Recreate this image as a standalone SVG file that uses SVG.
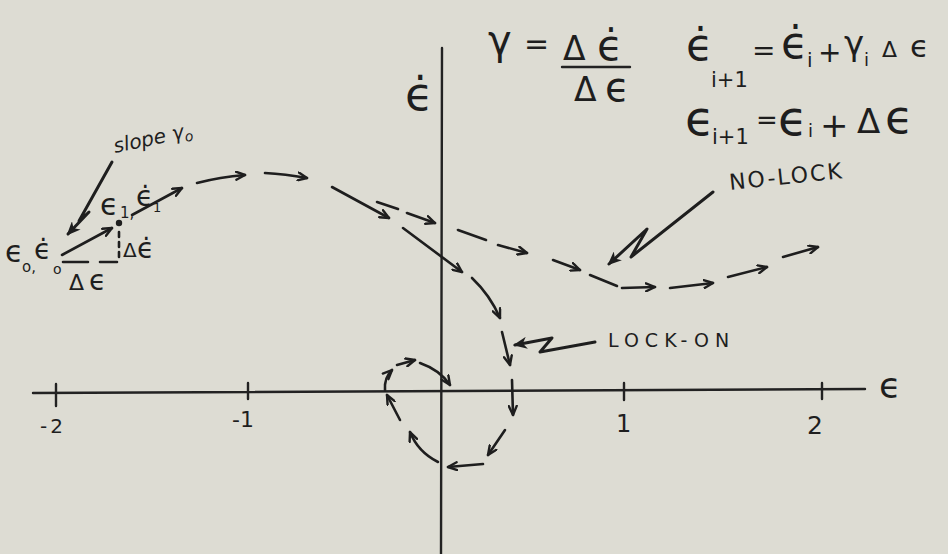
<svg xmlns="http://www.w3.org/2000/svg" width="948" height="554" viewBox="0 0 948 554">
<style>
.ink{stroke:#1e1e1e;stroke-width:2.6;fill:none;stroke-linecap:round;stroke-linejoin:round}
.ax{stroke:#222;stroke-width:2.4;fill:none;stroke-linecap:round}
.arr{marker-end:url(#head)}
.ptr{stroke:#1e1e1e;stroke-width:3;fill:none;stroke-linecap:round;stroke-linejoin:round;marker-end:url(#fhead)}
text{font-family:"DejaVu Sans","Noto Sans",sans-serif;fill:#1e1e1e}
.it{font-style:italic}
</style>
<defs>
<marker id="head" viewBox="0 0 12 10" refX="10" refY="5" markerWidth="12" markerHeight="10" markerUnits="userSpaceOnUse" orient="auto">
<path d="M1,1 L10,5 L1,9" fill="none" stroke="#1e1e1e" stroke-width="2.4" stroke-linejoin="round" stroke-linecap="round"/>
</marker>
<marker id="fhead" viewBox="0 0 14 12" refX="12" refY="6" markerWidth="14" markerHeight="12" markerUnits="userSpaceOnUse" orient="auto">
<path d="M0,0 L14,6 L0,12 L4,6 Z" fill="#1e1e1e"/>
</marker>
</defs>
<rect width="948" height="554" fill="#dddcd3"/>

<g id="axes">
<path class="ax" d="M33,393 L865,389"/>
<path class="ax" d="M442,48 L441,554"/>
<path class="ax" d="M56,384 L56,406 M248,383 L248,399 M624,383 L624,400 M822,383 L822,399"/>
</g>

<g id="axis-labels">
<text x="405" y="110" font-size="46">ϵ̇</text>
<text x="879" y="398" font-size="36">ϵ</text>
<text x="40" y="433" font-size="20" letter-spacing="3">-2</text>
<text x="232" y="427" font-size="22">-1</text>
<text x="616" y="432" font-size="24">1</text>
<text x="807" y="434" font-size="25">2</text>
</g>

<g id="equations">
<text x="488" y="54" font-size="40">γ</text>
<text x="524" y="54" font-size="30">=</text>
<text x="563" y="60" font-size="33">Δ</text>
<text x="597" y="60" font-size="42">ϵ̇</text>
<path class="ax" d="M562,67 L630,67"/>
<text x="574" y="101" font-size="33">Δ</text>
<text x="605" y="101" font-size="40">ϵ</text>

<text x="686" y="60" font-size="44">ϵ̇</text>
<text x="711" y="87" font-size="21">i+1</text>
<text x="752" y="60" font-size="28">=</text>
<text x="781" y="58" font-size="44">ϵ̇</text>
<text x="807" y="67" font-size="20">i</text>
<text x="818" y="62" font-size="28">+</text>
<text x="844" y="55" font-size="34">γ</text>
<text x="864" y="66" font-size="18">i</text>
<text x="882" y="57" font-size="22">Δ</text>
<text x="910" y="57" font-size="31">ϵ</text>

<text x="685" y="135" font-size="48">ϵ</text>
<text x="712" y="144" font-size="21">i+1</text>
<text x="756" y="129" font-size="26">=</text>
<text x="778" y="135" font-size="48">ϵ</text>
<text x="808" y="137" font-size="18">i</text>
<text x="820" y="137" font-size="34">+</text>
<text x="857" y="133" font-size="34">Δ</text>
<text x="885" y="133" font-size="46">ϵ</text>
</g>

<g id="start-construction">
<text x="5" y="262" font-size="30">ϵ</text>
<text x="22" y="272" font-size="15">o,</text>
<text x="34" y="259" font-size="28">ϵ̇</text>
<text x="53" y="274" font-size="14">o</text>
<circle cx="119" cy="223" r="3.2" fill="#1e1e1e"/>
<path class="ink" d="M119,232 L119,258" stroke-dasharray="5,5" stroke-width="2"/>
<path class="ink" d="M63,262 L88,262 M100,262 L117,262" stroke-width="2"/>
<text x="69" y="290" font-size="22">Δ</text>
<text x="89" y="290" font-size="28">ϵ</text>
<text x="123" y="257" font-size="20">Δ</text>
<text x="137" y="258" font-size="28">ϵ̇</text>
<text x="100" y="215" font-size="30">ϵ</text>
<text x="120" y="218" font-size="15">1,</text>
<text x="136" y="206" font-size="28">ϵ̇</text>
<text x="153" y="212" font-size="13">1</text>
<text class="it" x="115" y="153" font-size="20" transform="rotate(-12 115 153)">slope γ<tspan font-size="14" dy="4">o</tspan></text>
</g>

<g id="labels">
<text x="730" y="190" font-size="22" letter-spacing="2" transform="rotate(-6 730 190)">NO-LOCK</text>
<text x="608" y="347" font-size="19" letter-spacing="6">LOCK-ON</text>
</g>

<g id="connectors">
<path class="ink arr" d="M62,255 L112,228"/>
<path class="ink arr" d="M132,215 L182,188"/>
<path class="ink arr" d="M197,183 Q220,177 245,175"/>
<path class="ink arr" d="M265,173 Q285,174 307,178"/>
<path class="ink arr" d="M332,187 L389,218"/>
<path class="ink" d="M377,202 L398,209"/>
<path class="ink arr" d="M407,213 L435,223"/>
<path class="ink" d="M458,230 L486,240"/>
<path class="ink arr" d="M498,245 L527,253"/>
<path class="ink arr" d="M553,260 L580,270"/>
<path class="ink" d="M590,275 L617,286"/>
<path class="ink arr" d="M622,288 L655,287"/>
<path class="ink arr" d="M670,288 L713,283"/>
<path class="ink arr" d="M728,277 L767,267"/>
<path class="ink arr" d="M783,257 L818,247"/>

<path class="ink arr" d="M403,228 L462,272"/>
<path class="ink arr" d="M472,278 Q490,295 500,318"/>
<path class="ink arr" d="M502,332 L510,365"/>
<path class="ink arr" d="M512,380 L513,415"/>
<path class="ink arr" d="M505,430 L488,455"/>
<path class="ink arr" d="M483,464 L448,467"/>
<path class="ink arr" d="M438,462 Q418,452 410,432"/>
<path class="ink arr" d="M400,420 L387,395"/>
<path class="ink arr" d="M385,390 Q384,378 392,370"/>
<path class="ink arr" d="M397,365 L415,360"/>
<path class="ink arr" d="M420,363 Q440,370 450,385"/>

<path class="ptr" d="M112,162 L79,221 L89,212 L68,234"/>
<path class="ptr" d="M713,192 L631,257 L647,229 L609,264"/>
<path class="ptr" d="M595,342 L540,352 L552,338 L515,345"/>
</g>
</svg>
